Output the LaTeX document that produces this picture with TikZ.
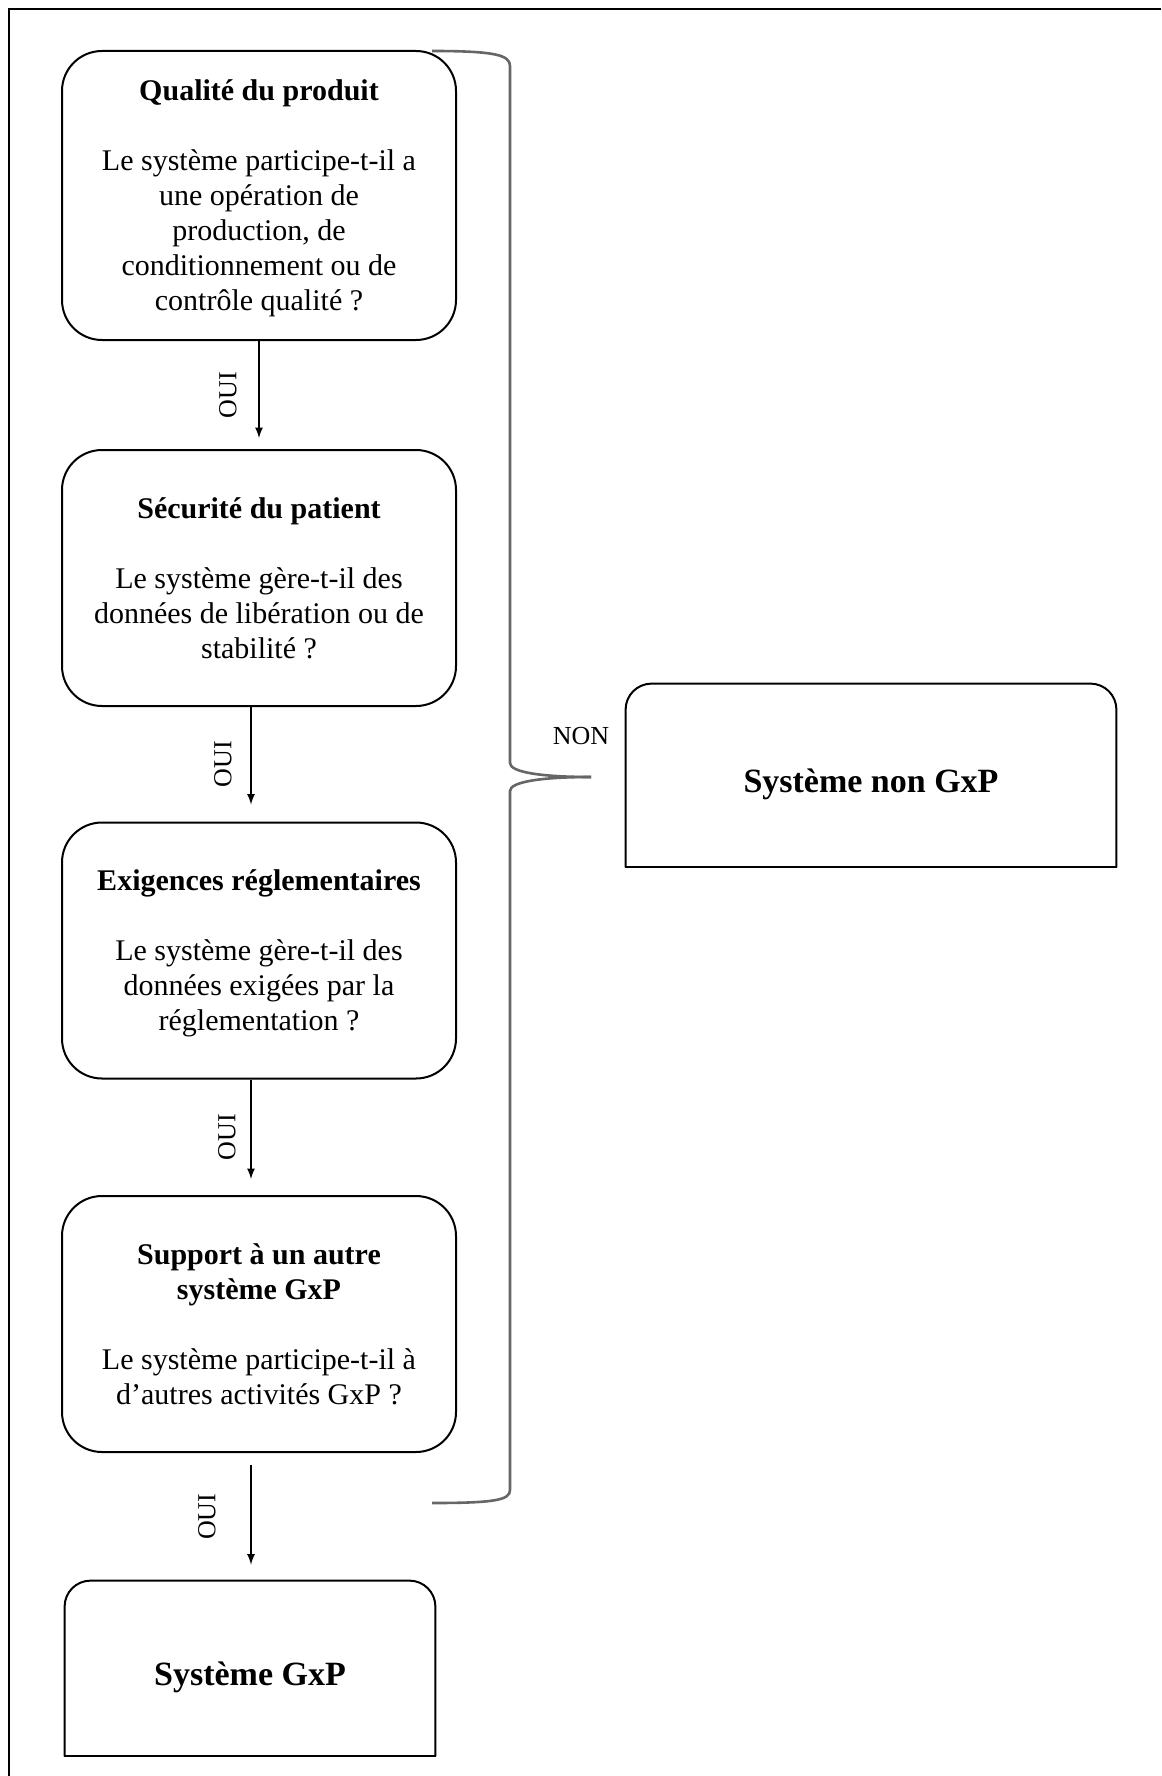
\documentclass[tikz,border=0pt]{standalone}
\usepackage{fontspec}
\setmainfont{Liberation Serif}

\tikzset{
  question/.style={draw, line width=1pt, rounded corners=20pt, minimum width=197pt,
    inner sep=0pt, align=center, text depth=-3.5pt, font=\fontsize{15}{17.5}\selectfont},
  verdict/.style={inner sep=0pt, align=center, text height=21pt, font=\bfseries\fontsize{17}{20}\selectfont},
  lbl/.style={inner sep=1pt, font=\fontsize{13}{15}\selectfont},
  brace/.style={draw=black!60, line width=1.3pt},
}

\begin{document}
\begin{tikzpicture}[x=0.5pt, y=-0.5pt]

\useasboundingbox (0,0) rectangle (1161,1776);

% Frame
  \draw[line width=1.2pt] (1161,9) -- (9,9) -- (9,1776);

% Questions
  \node[question, minimum height=144.5pt] (qualite) at (259,195.5)
    {\textbf{Qualité du produit}\\[17.5pt] Le système participe-t-il a\\ une opération de\\
     production, de\\ conditionnement ou de\\ contrôle qualité ?};
  \node[question, minimum height=128pt] (securite) at (259,578)
    {\textbf{Sécurité du patient}\\[17.5pt] Le système gère-t-il des\\
     données de libération ou de\\ stabilité ?};
  \node[question, minimum height=128pt] (exigences) at (259,950.5)
    {\textbf{Exigences réglementaires}\\[17.5pt] Le système gère-t-il des\\
     données exigées par la\\ réglementation ?};
  \node[question, minimum height=128pt] (support) at (259,1324)
    {\textbf{Support à un autre}\\ \textbf{système GxP}\\[17.5pt]
     Le système participe-t-il à\\ d’autres activités GxP ?};

% Results
  \node[verdict, minimum width=185pt, minimum height=87.5pt] (gxp) at (250,1668.5) {Système GxP};
  \node[verdict, minimum width=245pt, minimum height=91.5pt] (nongxp) at (871,775.5) {Système non GxP};
  \foreach \n in {gxp,nongxp} {
    \draw[line width=1pt, rounded corners=13pt] (\n.south west) -- (\n.north west) -- (\n.north east) -- (\n.south east);
    \draw[line width=1pt, line cap=rect] (\n.south west) -- (\n.south east);
  }

% OUI arrows
  \foreach \from/\to/\sx/\lx/\sa/\sb in {qualite/securite/0/-15.5/0/5.5, securite/exigences/-4/-14/0/8.5,
      exigences/support/-4/-12/0/8, support/gxp/-4/-22/6/8}
  \draw[->,>=latex, line width=0.8pt, shorten <=\sa pt, shorten >=\sb pt]
    ([xshift=\sx pt]\from.south) -- ([xshift=\sx pt]\from.south |- \to.north)
    node[lbl, midway, xshift=\lx pt, rotate=90] {OUI};

% NON brace
  \coordinate (btop) at (432,51);
  \coordinate (btip) at (591,777);
  \coordinate (bbot) at (432,1503);
  \draw[brace] (btop) .. controls (495,51) and (510,55) .. (510,66) -- (510,763)
    .. controls (510,772) and (540,777) .. (btip);
  \draw[brace] (btip) .. controls (540,777) and (510,782) .. (510,791) -- (510,1490)
    .. controls (510,1500) and (495,1503) .. (bbot);
  \node[lbl] (non) at (581,736) {NON};

\end{tikzpicture}
\end{document}
